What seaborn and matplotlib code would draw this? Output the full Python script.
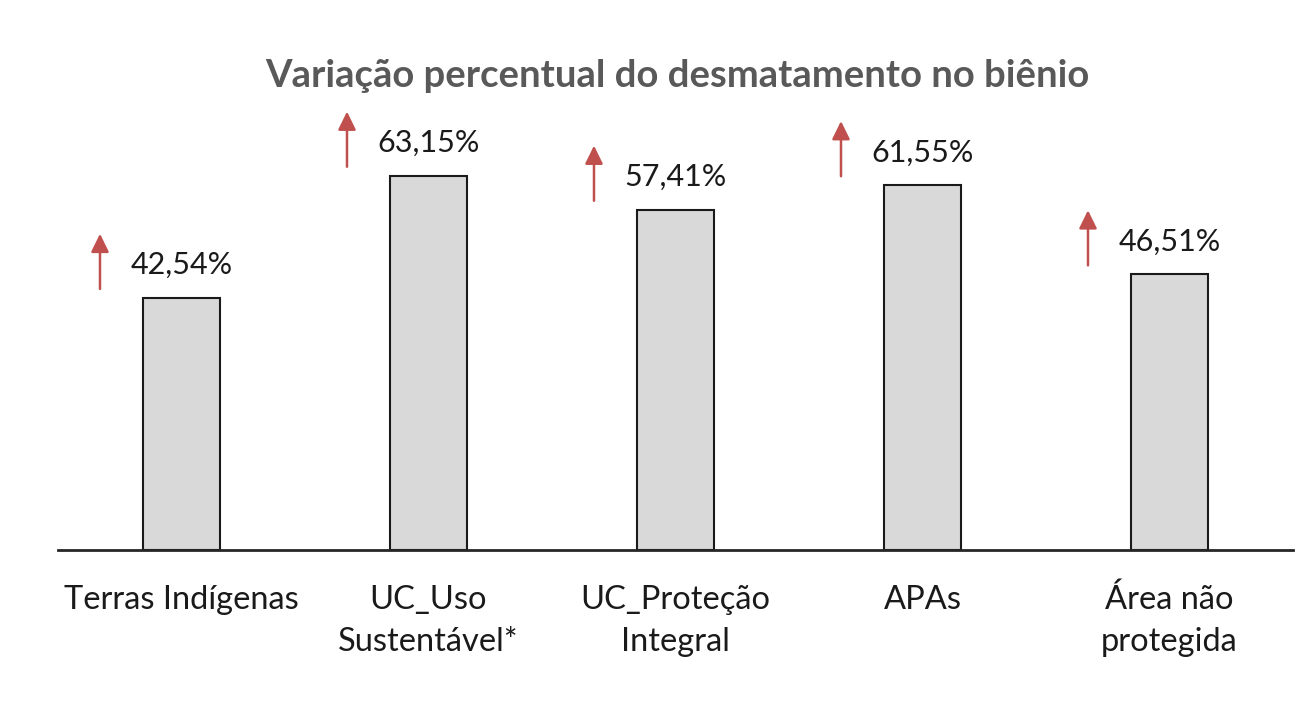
import numpy as np
import pandas as pd
import matplotlib
matplotlib.use("Agg")
import matplotlib.pyplot as plt
import seaborn as sns

# Data
categories = ["Terras Indígenas", "UC_Uso\nSustentável*", "UC_Proteção\nIntegral",
              "APAs", "Área não\nprotegida"]
variacao = [42.54, 63.15, 57.41, 61.55, 46.51]
value_labels = ["42,54%", "63,15%", "57,41%", "61,55%", "46,51%"]

sns.set_style("white")
plt.rcParams["font.family"] = ["Lato", "DejaVu Sans"]

df = pd.DataFrame({"categoria": categories, "variacao": variacao})

fig = plt.figure(figsize=(13.08, 7.06), dpi=100)
ax = fig.add_axes([58 / 1308, 156 / 706, 1235 / 1308, 415 / 706])

sns.barplot(data=df, x="categoria", y="variacao", color="#D9D9D9",
            edgecolor="#1a1a1a", linewidth=1.5, width=0.315,
            saturation=1, ax=ax)

ax.set_xlim(-0.5, 4.5)
ax.set_ylim(0, 70)

# value labels and red arrows
for i, (v, lab) in enumerate(zip(variacao, value_labels)):
    ax.annotate(lab, xy=(i, v), xytext=(0, 17), textcoords="offset points",
                ha="center", va="baseline", fontsize=22, color="#1a1a1a",
                annotation_clip=False)
    ax.annotate("", xy=(i - 0.33, v + 10.8), xytext=(i - 0.33, v + 1.5),
                arrowprops=dict(arrowstyle="-|>,head_length=0.55,head_width=0.27",
                                color="#C0504D", lw=1.8, mutation_scale=20,
                                shrinkA=0, shrinkB=0),
                annotation_clip=False)

for side in ["top", "right", "left"]:
    ax.spines[side].set_visible(False)
ax.spines["bottom"].set_color("#262626")
ax.spines["bottom"].set_linewidth(2)

ax.set_yticks([])
ax.set_xlabel("")
ax.set_ylabel("")
ax.tick_params(axis="x", length=0, pad=25)
for t in ax.get_xticklabels():
    t.set_fontsize(23.5)
    t.set_color("#1a1a1a")
    t.set_linespacing(1.5)
    t.set_verticalalignment("top")

fig.text(0.5175, 1 - 76 / 706, "Variação percentual do desmatamento no biênio",
         ha="center", va="center", fontsize=27.5, fontweight="bold", color="#595959")

fig.savefig("out.png", dpi=100)
